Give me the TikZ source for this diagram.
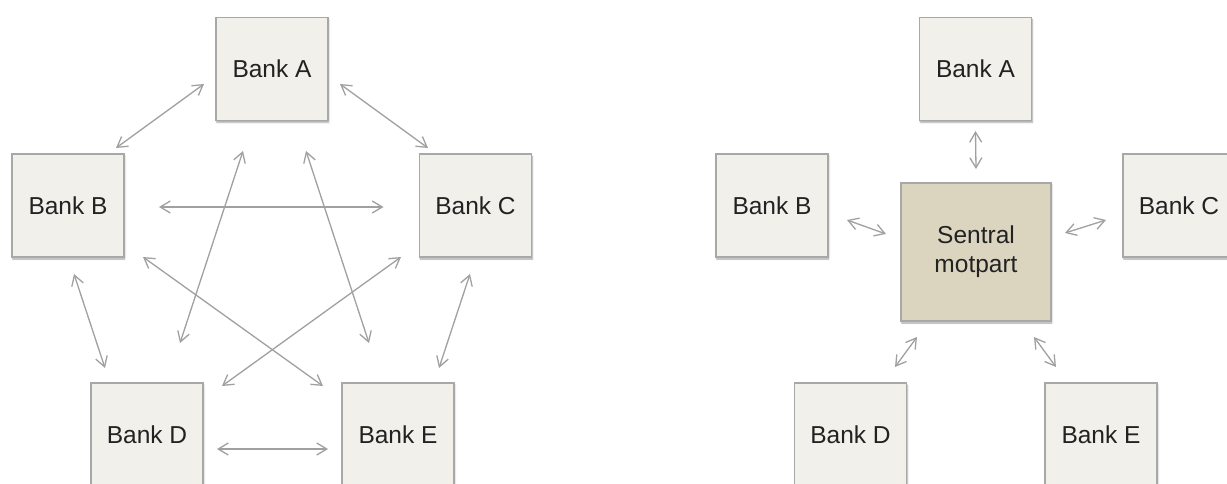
\documentclass[tikz,border=0pt]{standalone}
\usepackage{fontspec}
\setmainfont{Liberation Sans}
\usetikzlibrary{arrows.meta,shadows.blur}

\definecolor{boxfill}{HTML}{F2F0EA}
\definecolor{hubfill}{HTML}{DBD5C0}
\definecolor{boxline}{HTML}{A8A8A8}
\definecolor{linkcol}{HTML}{A0A0A0}
\definecolor{textcol}{HTML}{222222}

\begin{document}
\begin{tikzpicture}[x=1pt,y=-1pt,
  bank/.style={draw=boxline, line width=1.2pt, fill=boxfill,
    minimum width=112pt, minimum height=103pt, inner sep=0pt,
    text=textcol, font=\fontsize{24.5}{29}\selectfont,
    blur shadow={shadow xshift=0.8pt, shadow yshift=-2pt,
      shadow blur steps=6, shadow blur radius=1.5pt, shadow opacity=35}},
  hub/.style={bank, fill=hubfill, minimum width=150pt, minimum height=138pt, align=center},
  link/.style={draw=linkcol, line width=1.3pt,
    {Straight Barb[length=10pt,width=12pt]}-{Straight Barb[length=10pt,width=12pt]}}
]
\useasboundingbox (0,0) rectangle (1227,484);
\clip (0,0) rectangle (1227,484);

% --- every bank linked to every other bank ---
\node[bank] (A) at (272,69)    {Bank A};
\node[bank] (B) at (68,205.5)  {Bank B};
\node[bank] (C) at (475.5,205.5) {Bank C};
\node[bank] (D) at (147,434.5) {Bank D};
\node[bank] (E) at (398,434.5) {Bank E};

\draw[link] ([shift={(48,-57.5)}]B.center) -- ([shift={(-68,15)}]A.center);
\draw[link] ([shift={(68,15)}]A.center) -- ([shift={(-47.5,-57.5)}]C.center);
\draw[link] ([shift={(91,1.5)}]B.center) -- ([shift={(-92,1.5)}]C.center);
\draw[link] ([shift={(-29,82)}]A.center) -- ([shift={(33,-91.5)}]D.center);
\draw[link] ([shift={(34,82)}]A.center) -- ([shift={(-29,-91.5)}]E.center);
\draw[link] ([shift={(75,51.5)}]B.center) -- ([shift={(-75,-48.5)}]E.center);
\draw[link] ([shift={(-74.5,51.5)}]C.center) -- ([shift={(75,-48.5)}]D.center);
\draw[link] ([shift={(6,68.5)}]B.center) -- ([shift={(-42,-66.5)}]D.center);
\draw[link] ([shift={(-5.5,68.5)}]C.center) -- ([shift={(41,-66.5)}]E.center);
\draw[link] ([shift={(70,14.5)}]D.center) -- ([shift={(-70,14.5)}]E.center);

% --- every bank linked only to the central counterparty ---
\node[hub]  (M)  at (976,252)     {Sentral\\motpart};
\node[bank] (A2) at (975.5,69)    {Bank A};
\node[bank] (B2) at (772,205.5)   {Bank B};
\node[bank] (C2) at (1179,205.5)  {Bank C};
\node[bank] (D2) at (850.5,434.5) {Bank D};
\node[bank] (E2) at (1101,434.5)  {Bank E};

\draw[link] ([shift={(0,62)}]A2.center) -- ([shift={(0,-83)}]M.center);
\draw[link] ([shift={(75,14.5)}]B2.center) -- ([shift={(-90,-18)}]M.center);
\draw[link] ([shift={(89,-19)}]M.center) -- ([shift={(-73,14.5)}]C2.center);
\draw[link] ([shift={(44.5,-67.5)}]D2.center) -- ([shift={(-59,85)}]M.center);
\draw[link] ([shift={(-45,-67.5)}]E2.center) -- ([shift={(58,85)}]M.center);
\end{tikzpicture}
\end{document}
